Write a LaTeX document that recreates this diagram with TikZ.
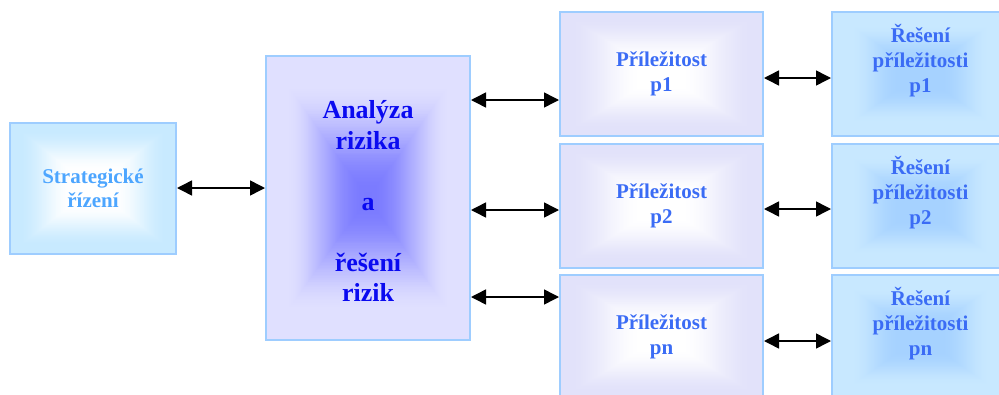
\documentclass[tikz,border=0pt]{standalone}
\usepackage{fontspec}
\setmainfont{Liberation Serif}
\usetikzlibrary{calc,arrows.meta}

\definecolor{boxline}{HTML}{9ECDFF}
\definecolor{stratout}{HTML}{C8EAFF}
\definecolor{stratin}{HTML}{FFFFFF}
\definecolor{anaout}{HTML}{E0E0FF}
\definecolor{anain}{HTML}{7A7AFF}
\definecolor{prout}{HTML}{E2E2FA}
\definecolor{prin}{HTML}{FFFFFF}
\definecolor{resout}{HTML}{C8E8FF}
\definecolor{resin}{HTML}{A6D2FF}
\definecolor{strattext}{HTML}{4DA6FF}
\definecolor{anatext}{HTML}{0A0AF0}
\definecolor{prtext}{HTML}{3B6CF5}

\tikzset{
  % box filled with a rectangular gradient running from the border to the centre
  gradbox/.style n args={4}{draw=boxline, line width=2pt, rectangle, inner sep=0pt,
    path picture={
      \foreach \t in {0,0.01,...,0.991}{
        \pgfmathsetmacro\q{max(0,min(1,(\t-#3)/(#4-#3)))}
        \pgfmathtruncatemacro\p{100*\q*\q*(3-2*\q)}
        \fill[#2!\p!#1]
          ($(path picture bounding box.south west)!{\t/2}!(path picture bounding box.north east)$)
          rectangle
          ($(path picture bounding box.south west)!{1-\t/2}!(path picture bounding box.north east)$);
      }}},
  stratbox/.style={gradbox={stratout}{stratin}{0.1}{0.75},
    minimum width=166pt, minimum height=131pt, align=center, text=strattext,
    font=\fontsize{21}{24}\selectfont\bfseries},
  anabox/.style={gradbox={anaout}{anain}{0.18}{0.95},
    minimum width=204pt, minimum height=284pt},
  anatextstyle/.style={align=center, text=anatext, inner sep=0pt,
    font=\fontsize{26}{30.5}\selectfont\bfseries},
  prbox/.style={gradbox={prout}{prin}{0.1}{0.8},
    minimum width=203pt, minimum height=124pt, align=center, text=prtext,
    font=\fontsize{21}{25}\selectfont\bfseries},
  resbox/.style={gradbox={resout}{resin}{0.2}{0.75},
    minimum width=177pt, minimum height=124pt},
  restext/.style={align=center, text=prtext, inner sep=0pt,
    font=\fontsize{21}{25}\selectfont\bfseries},
  biarrow/.style={line width=1.5pt,
    {Triangle[length=15pt,width=15pt]}-{Triangle[length=15pt,width=15pt]}},
}

\begin{document}
\begin{tikzpicture}[x=1pt,y=-1pt]
  \useasboundingbox (0,0) rectangle (999,394);
  \clip (0,0) rectangle (999,394);

  % main blocks
  \node[stratbox] (strat) at (93,188) {Strategické\\řízení};
  \node[anabox] (ana) at (368,198) {};
  \node[anatextstyle] (anat) at ([yshift=-3pt]ana.center)
    {Analýza\\rizika\\\mbox{}\\a\\\mbox{}\\řešení\\rizik};

  % opportunities
  \node[prbox] (p1) at (661.5,74)  {Příležitost\\p1};
  \node[prbox] (p2) at (661.5,206) {Příležitost\\p2};
  \node[prbox] (pn) at (661.5,337) {Příležitost\\pn};

  % their solutions
  \node[resbox] (r1) at (920.5,74)  {};
  \node[resbox] (r2) at (920.5,206) {};
  \node[resbox] (rn) at (920.5,337) {};
  \node[restext] (r1t) at ([yshift=13pt]r1.center) {Řešení\\příležitosti\\p1};
  \node[restext] (r2t) at ([yshift=13pt]r2.center) {Řešení\\příležitosti\\p2};
  \node[restext] (rnt) at ([yshift=13pt]rn.center) {Řešení\\příležitosti\\pn};

  % connector heights
  \coordinate (ya) at (0,100);
  \coordinate (yb) at (0,210);
  \coordinate (yc) at (0,297);
  \coordinate (za) at (0,78);
  \coordinate (zb) at (0,209);
  \coordinate (zc) at (0,341);

  % connectors
  \draw[biarrow] (strat.east) -- (strat.east -| ana.west);
  \draw[biarrow] (ana.east |- ya) -- (p1.west |- ya);
  \draw[biarrow] (ana.east |- yb) -- (p2.west |- yb);
  \draw[biarrow] (ana.east |- yc) -- (pn.west |- yc);
  \draw[biarrow] (p1.east |- za) -- (r1.west |- za);
  \draw[biarrow] (p2.east |- zb) -- (r2.west |- zb);
  \draw[biarrow] (pn.east |- zc) -- (rn.west |- zc);
\end{tikzpicture}
\end{document}
